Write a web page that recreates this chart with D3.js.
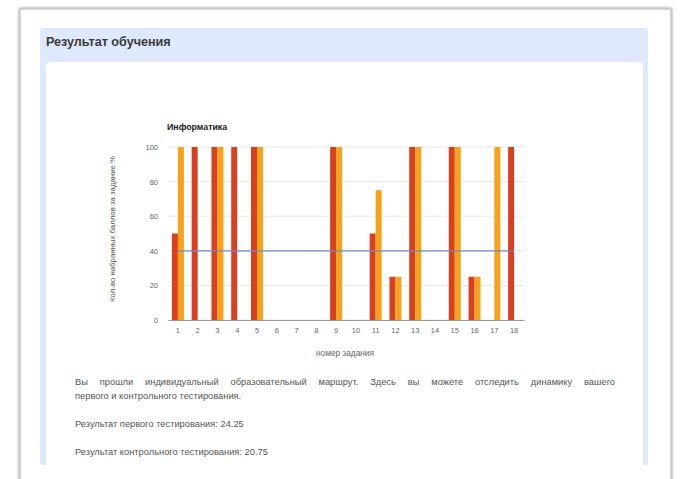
<!DOCTYPE html>
<html><head><meta charset="utf-8">
<script src="https://cdn.jsdelivr.net/npm/d3@7/dist/d3.min.js"></script>
<style>html,body{margin:0;padding:0;background:#fff;}svg{display:block;font-family:"Liberation Sans",Arial,sans-serif;}</style>
</head><body><div id="c"></div>
<script>
const categories = ["1","2","3","4","5","6","7","8","9","10","11","12","13","14","15","16","17","18"];
const firstTest = [50,100,100,100,100,0,0,0,100,0,50,25,100,0,100,25,0,100];
const controlTest = [100,0,100,0,100,0,0,0,100,0,75,25,100,0,100,25,100,0];
const threshold = [40,40,40,40,40,40,40,40,40,40,40,40,40,40,40,40,40,40];
const yTicks = [0,20,40,60,80,100];
const chartTitle = "Информатика";
const yTitle = "Кол-во набранных баллов за задание %";
const xTitle = "номер задания";
const header = "Результат обучения";
const para1 = "Вы прошли индивидуальный образовательный маршрут. Здесь вы можете отследить динамику вашего";
const para2 = "первого и контрольного тестирования.";
const res1 = "Результат первого тестирования: 24.25";
const res2 = "Результат контрольного тестирования: 20.75";

const W=680,H=479;
const svg=d3.select("#c").append("svg").attr("width",W).attr("height",H);
const defs=svg.append("defs");
const f=defs.append("filter").attr("id","sh").attr("x","-5%").attr("y","-5%").attr("width","110%").attr("height","110%");
f.append("feGaussianBlur").attr("in","SourceAlpha").attr("stdDeviation",1.5);
f.append("feOffset").attr("dx",0).attr("dy",0).attr("result","b");
f.append("feComponentTransfer").append("feFuncA").attr("type","linear").attr("slope",0.5);
const m=f.append("feMerge");m.append("feMergeNode");m.append("feMergeNode").attr("in","SourceGraphic");

// page frame
svg.append("rect").attr("x",20).attr("y",9).attr("width",651).attr("height",480).attr("fill","#fff").attr("stroke","#c8c8c8").attr("stroke-width",1.5).attr("filter","url(#sh)");
// blue panel
svg.append("rect").attr("x",40).attr("y",28).attr("width",608).attr("height",437).attr("fill","#dfe9fc").attr("rx",2);
svg.append("text").attr("x",46).attr("y",46).attr("font-size",12.6).attr("font-weight","bold").attr("fill","#3a3a3a").text(header);
// inner card
svg.append("rect").attr("x",46).attr("y",62).attr("width",597).attr("height",420).attr("fill","#fff").attr("rx",4);

// chart
const x=d3.scaleBand().domain(categories).range([168,524]);
const y=d3.scaleLinear().domain([0,100]).range([320,147]);
const g=svg.append("g");
g.selectAll(".grid").data(yTicks).join("line").attr("x1",168).attr("x2",524)
 .attr("y1",d=>y(d)).attr("y2",d=>y(d)).attr("stroke","#e6e6e6").attr("stroke-width",1);
const yAx=g.append("g").attr("transform","translate(168,0)").call(d3.axisLeft(y).tickValues(yTicks).tickSize(0).tickPadding(10));
yAx.select(".domain").remove();
yAx.selectAll("text").attr("font-size",7.5).attr("fill","#666").attr("font-family","Liberation Sans, Arial");

const bw=6;
g.selectAll(".b1").data(firstTest).join("rect").attr("x",(d,i)=>x(categories[i])+x.bandwidth()/2-bw)
 .attr("width",bw).attr("y",d=>y(d)).attr("height",d=>y(0)-y(d)).attr("fill","#d9401f");
g.selectAll(".b2").data(controlTest).join("rect").attr("x",(d,i)=>x(categories[i])+x.bandwidth()/2)
 .attr("width",bw).attr("y",d=>y(d)).attr("height",d=>y(0)-y(d)).attr("fill","#f7a21b");

const xAx=g.append("g").attr("transform","translate(0,320)").call(d3.axisBottom(x).tickSize(0).tickPadding(8));
xAx.select(".domain").attr("stroke","#999");
xAx.selectAll("text").attr("font-size",7.5).attr("fill","#666").attr("font-family","Liberation Sans, Arial");

const line=d3.line().x((d,i)=>x(categories[i])+x.bandwidth()/2).y(d=>y(d));
g.append("path").datum(threshold).attr("d",line).attr("fill","none").attr("stroke","#7088cc").attr("stroke-width",1.3);

g.append("text").attr("x",167).attr("y",130).attr("font-size",8.8).attr("font-weight","bold").attr("fill","#222").text(chartTitle);
g.append("text").attr("transform","translate(115,229) rotate(-90)").attr("text-anchor","middle").attr("font-size",7.8).attr("fill","#555").text(yTitle);
g.append("text").attr("x",345).attr("y",356).attr("text-anchor","middle").attr("font-size",8.3).attr("fill","#666").text(xTitle);

// paragraph: justified first line
const fs=9.3, tc="#555";
const words=para1.split(" ");
const p1=svg.append("g");
const wt=p1.selectAll("text").data(words).join("text").attr("y",385).attr("font-size",fs).attr("fill",tc).text(d=>d);
const widths=[];wt.each(function(){widths.push(this.getComputedTextLength());});
const total=d3.sum(widths), left=75, right=615;
const gap=(right-left-total)/(words.length-1);
let cx=left;
wt.attr("x",(d,i)=>{const v=cx;cx+=widths[i]+gap;return v;});
svg.append("text").attr("x",75).attr("y",399).attr("font-size",fs).attr("fill",tc).text(para2);
svg.append("text").attr("x",75).attr("y",427).attr("font-size",fs).attr("fill",tc).text(res1);
svg.append("text").attr("x",75).attr("y",455).attr("font-size",fs).attr("fill",tc).text(res2);
</script></body></html>
